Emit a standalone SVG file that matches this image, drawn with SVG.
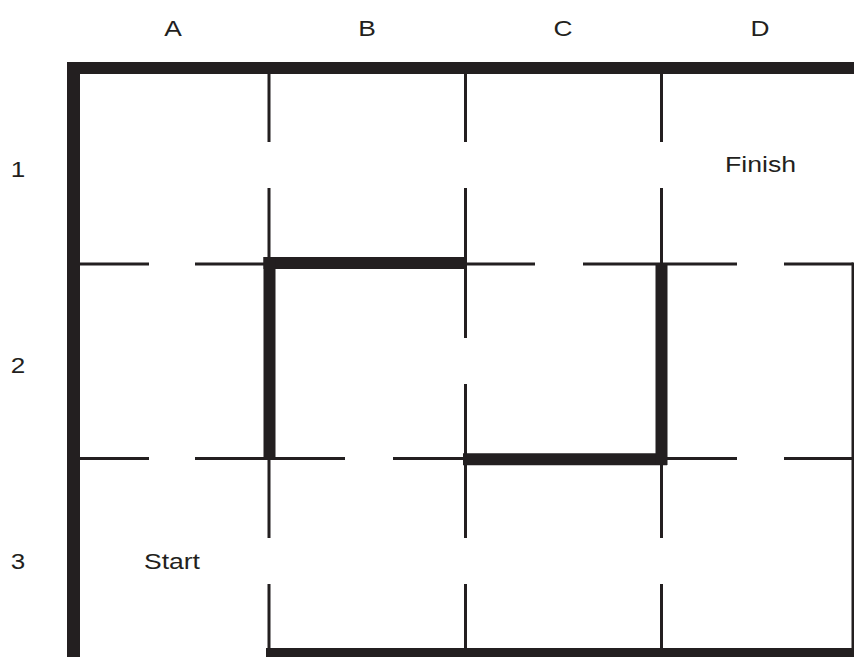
<svg xmlns="http://www.w3.org/2000/svg" width="854" height="657" viewBox="0 0 854 657">
<style>
.thin{stroke:#231f20;stroke-width:3;fill:none;stroke-linecap:butt}
.thick{stroke:#231f20;stroke-width:12;fill:none;stroke-linecap:butt}
.wall{fill:#231f20}
.lbl{font-family:"Liberation Sans",Arial,sans-serif;font-size:22px;fill:#231f20}
</style>
<rect width="854" height="657" fill="#ffffff"/>
<g id="labels">
<text class="lbl" x="173" y="35.5" text-anchor="middle" textLength="17.6" lengthAdjust="spacingAndGlyphs">A</text>
<text class="lbl" x="367" y="35.5" text-anchor="middle" textLength="17.6" lengthAdjust="spacingAndGlyphs">B</text>
<text class="lbl" x="563" y="35.5" text-anchor="middle" textLength="19" lengthAdjust="spacingAndGlyphs">C</text>
<text class="lbl" x="760" y="35.5" text-anchor="middle" textLength="19" lengthAdjust="spacingAndGlyphs">D</text>
<text class="lbl" x="18" y="177" text-anchor="middle" textLength="14.5" lengthAdjust="spacingAndGlyphs">1</text>
<text class="lbl" x="18" y="373" text-anchor="middle" textLength="14.5" lengthAdjust="spacingAndGlyphs">2</text>
<text class="lbl" x="18" y="569" text-anchor="middle" textLength="14.5" lengthAdjust="spacingAndGlyphs">3</text>
</g>
<g id="outer-walls">
<rect class="wall" x="67" y="62" width="787" height="12"/>
<rect class="wall" x="67" y="62" width="13" height="595"/>
<rect class="wall" x="266" y="648" width="588" height="9"/>
<path class="thin" d="M853 262.5V650"/>
</g>
<g id="thin-walls">
<path class="thin" d="M269 74V142M269 188V264M269 458V538M269 584V650"/>
<path class="thin" d="M465.5 74V142M465.5 188V264M465.5 264V338M465.5 384V458M465.5 458V538M465.5 584V650"/>
<path class="thin" d="M661.5 74V142M661.5 188V264M661.5 458V538M661.5 584V650"/>
<path class="thin" d="M80 264H149M195 264H269M465 264H535M583 264H661M661 264H737M784 264H853"/>
<path class="thin" d="M80 458.5H149M195 458.5H269M269 458.5H345M393 458.5H465M661 458.5H737M784 458.5H853"/>
</g>
<g id="thick-walls">
<path class="thick" d="M263.5 263H465"/>
<path class="thick" d="M269.5 257V459"/>
<path class="thick" d="M463 459.3H667"/>
<path class="thick" d="M661.5 264V465"/>
</g>
<g id="cell-finish">
<text class="lbl" x="725" y="172" textLength="71" lengthAdjust="spacingAndGlyphs">Finish</text>
</g>
<g id="cell-start">
<text class="lbl" x="144" y="569" textLength="56" lengthAdjust="spacingAndGlyphs">Start</text>
</g>
</svg>
